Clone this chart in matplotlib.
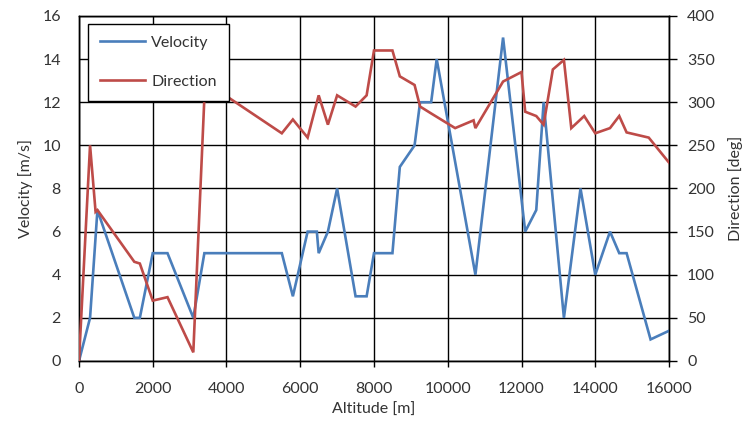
import matplotlib
matplotlib.use("Agg")
import matplotlib.pyplot as plt

# Wind profile: speed and direction against altitude
vel_alt = [0, 300, 500, 1500, 1650, 2000, 2400, 3100, 3400, 5500, 5800, 6200, 6450,
           6500, 6750, 7000, 7500, 7800, 8000, 8500, 8700, 9100, 9250, 9550, 9700,
           10750, 11500, 12100, 12400, 12600, 13150, 13600, 14000, 14400, 14650,
           14850, 15500, 16000]
velocity = [0, 2, 7, 2, 2, 5, 5, 2, 5, 5, 3, 6, 6,
            5, 6, 8, 3, 3, 5, 5, 9, 10, 12, 12, 14,
            4, 15, 6, 7, 12, 2, 8, 4, 6, 5,
            5, 1, 1.4]

dir_alt = [0, 300, 450, 500, 1500, 1650, 2000, 2400, 3100, 3400, 4000, 5500, 5800,
           6200, 6500, 6750, 7000, 7500, 7800, 8000, 8500, 8700, 9100, 9250, 9550,
           10200, 10700, 10750, 11500, 12000, 12100, 12400, 12600, 12850, 13150,
           13350, 13700, 14000, 14400, 14650, 14850, 15450, 16000]
direction = [0, 250, 173, 175, 115, 113, 70, 74, 10, 305, 307, 264, 280,
             259, 308, 274, 308, 295, 308, 360, 360, 330, 320, 295, 287,
             270, 279, 270, 324, 335, 289, 284, 274, 338, 349,
             270, 284, 264, 270, 284, 265, 259, 230]

x_ticks = list(range(0, 16001, 2000))
v_ticks = list(range(0, 17, 2))
d_ticks = list(range(0, 401, 50))

BLUE = "#4A7EBB"
RED = "#BE4B48"
FONT = ["Lato", "DejaVu Sans"]
plt.rcParams["font.family"] = FONT
plt.rcParams["font.size"] = 11.5

fig = plt.figure(figsize=(7.48, 4.32), dpi=100)
ax = fig.add_axes([0.1056, 0.1644, 0.7888, 0.7986])
ax2 = ax.twinx()

ln1, = ax.plot(vel_alt, velocity, color=BLUE, lw=1.9, label="Velocity",
               solid_joinstyle="miter", zorder=3)
ln2, = ax2.plot(dir_alt, direction, color=RED, lw=1.9, label="Direction",
                solid_joinstyle="miter", zorder=3)

ax.set_xlim(0, 16000)
ax.set_ylim(0, 16)
ax2.set_ylim(0, 400)
ax.set_xticks(x_ticks)
ax.set_yticks(v_ticks)
ax2.set_yticks(d_ticks)

ax.grid(True, color="black", lw=1.0)
ax.set_axisbelow(True)

for a in (ax, ax2):
    for s in a.spines.values():
        s.set_color("black")
        s.set_linewidth(1.0)

ax.tick_params(axis="y", length=0, pad=13, colors="#333333", labelcolor="#333333")
ax.tick_params(axis="x", length=4, width=1, direction="out", pad=11,
               color="black", labelcolor="#333333")
ax2.tick_params(axis="y", length=6, width=1, direction="out", pad=7,
                color="black", labelcolor="#333333")

ax.set_xlabel("Altitude [m]", color="#333333", labelpad=5)
ax.set_ylabel("Velocity [m/s]", color="#333333", labelpad=7)
ax2.set_ylabel("Direction [deg]", color="#333333", labelpad=9)

leg = ax2.legend(handles=[ln1, ln2], loc="upper left",
                 bbox_to_anchor=(0.0153, 0.977), fancybox=False,
                 edgecolor="black", framealpha=1.0, labelspacing=1.55,
                 handlelength=2.8, handletextpad=0.4, borderpad=0.75,
                 borderaxespad=0)
leg.get_frame().set_linewidth(1.0)
for t in leg.get_texts():
    t.set_color("#333333")
leg.set_zorder(10)

fig.savefig("out.png", dpi=100)
